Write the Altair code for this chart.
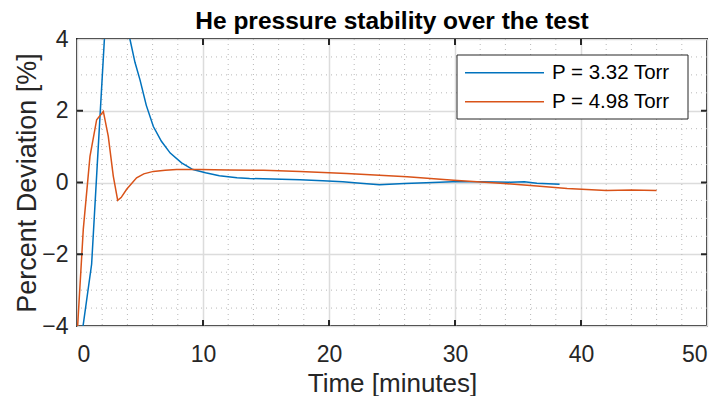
import altair as alt
import pandas as pd

title_text = "He pressure stability over the test"
series_names = ["P = 3.32 Torr", "P = 4.98 Torr"]
series_colors = ["#0072BD", "#D95319"]

# P = 3.32 Torr (blue)
t_332 = [0.48, 1.16, 1.6, 2.17, 2.6, 3.0, 3.5, 4.2, 4.6, 5.0, 5.5, 6.06, 6.7, 7.4, 8.3, 9.2,
         10.2, 11.3, 12.7, 13.7, 15.5, 17.7, 19.5, 21.1, 22.5, 24.0, 26.0, 27.7, 29.8, 32.0,
         34.4, 35.5, 36.5, 38.3]
d_332 = [-4.0, -2.28, 0.45, 3.97, 6.0, 6.5, 5.6, 4.0, 3.35, 2.86, 2.15, 1.56, 1.15, 0.82, 0.55,
         0.36, 0.27, 0.19, 0.13, 0.11, 0.10, 0.08, 0.05, 0.02, -0.02, -0.06, -0.03, -0.01, 0.02,
         0.02, 0.01, 0.02, -0.02, -0.05]

# P = 4.98 Torr (orange)
t_498 = [0.05, 0.5, 1.03, 1.56, 2.09, 2.48, 2.88, 3.23, 3.5, 3.94, 4.73, 5.3, 6.06, 7.0,
         7.9, 9.76, 12.0, 14.8, 17.7, 21.4, 24.0, 26.2, 29.9, 33.9, 36.5, 38.9, 42.0, 44.0, 46.0]
d_498 = [-4.0, -1.3, 0.73, 1.75, 1.98, 1.29, 0.18, -0.5, -0.42, -0.19, 0.13, 0.24, 0.31, 0.34,
         0.36, 0.36, 0.35, 0.34, 0.31, 0.25, 0.20, 0.16, 0.06, -0.03, -0.10, -0.17, -0.22, -0.21, -0.22]

x_major = [0, 10, 20, 30, 40, 50]
y_major = [-4, -2, 0, 2, 4]
x_inner_ticks = [10, 20, 30, 40]
y_inner_ticks = [-2, 0, 2]
x_minor = [2, 4, 6, 8, 12, 14, 16, 18, 22, 24, 26, 28, 32, 34, 36, 38, 42, 44, 46, 48]
y_minor = [-3.5, -3, -2.5, -1.5, -1, -0.5, 0.5, 1, 1.5, 2.5, 3, 3.5]

W, H = 630, 287
FONT = "Liberation Sans"
AX = "#262626"

df = pd.concat([
    pd.DataFrame({"t": t_332, "dev": d_332, "series": series_names[0]}),
    pd.DataFrame({"t": t_498, "dev": d_498, "series": series_names[1]}),
])

xscale = alt.Scale(domain=[0, 50], nice=False, zero=False)
yscale = alt.Scale(domain=[-4, 4], nice=False, zero=False)

x_axis = alt.Axis(
    values=x_major, title="Time [minutes]", grid=True, gridColor="#dcdcdc", gridWidth=1.5,
    ticks=False, domain=False, labelPadding=17, format="d", labelFontSize=23,
    titleFontSize=26, titleFontWeight="normal", titlePadding=4, labelColor=AX, titleColor=AX,
    labelFont=FONT, titleFont=FONT)
y_axis = alt.Axis(
    values=y_major, title="Percent Deviation [%]", grid=True, gridColor="#dcdcdc", gridWidth=1.5,
    ticks=False, domain=False, labelPadding=9, format="d", labelFontSize=23,
    titleFontSize=27, titleFontWeight="normal", titlePadding=0, labelColor=AX, titleColor=AX,
    labelFont=FONT, titleFont=FONT)

gx = alt.Chart(pd.DataFrame({"t": x_minor})).mark_rule(
    color="#b8b8b8", strokeWidth=1, strokeDash=[1, 4]
).encode(x=alt.X("t:Q", scale=xscale, axis=x_axis))

gy = alt.Chart(pd.DataFrame({"dev": y_minor})).mark_rule(
    color="#b8b8b8", strokeWidth=1, strokeDash=[1, 4]
).encode(y=alt.Y("dev:Q", scale=yscale, axis=y_axis))

lines = alt.Chart(df).mark_line(clip=True, strokeWidth=1.5).encode(
    x=alt.X("t:Q", scale=xscale, axis=x_axis),
    y=alt.Y("dev:Q", scale=yscale, axis=y_axis),
    color=alt.Color("series:N", scale=alt.Scale(domain=series_names, range=series_colors),
                    legend=None),
)

tick_style = dict(color=AX, strokeWidth=2)
xt = alt.Chart(pd.DataFrame({"t": x_inner_ticks}))
yt = alt.Chart(pd.DataFrame({"dev": y_inner_ticks}))
bt = xt.mark_rule(**tick_style).encode(x=alt.X("t:Q", scale=xscale, axis=x_axis), y=alt.value(H), y2=alt.value(H - 6))
tt = xt.mark_rule(**tick_style).encode(x=alt.X("t:Q", scale=xscale, axis=x_axis), y=alt.value(0), y2=alt.value(6))
lt = yt.mark_rule(**tick_style).encode(y=alt.Y("dev:Q", scale=yscale, axis=y_axis), x=alt.value(0), x2=alt.value(6))
rt = yt.mark_rule(**tick_style).encode(y=alt.Y("dev:Q", scale=yscale, axis=y_axis), x=alt.value(W), x2=alt.value(W - 6))

# manual legend box (pixel layout inside the plot area)
LX0, LX1, LY0, LY1 = 380, 611, 16, 80
row_y = [33.7, 62.7]
one = pd.DataFrame({"a": [0]})
legend_layers = [
    alt.Chart(one).mark_rect(fill="white", stroke=AX, strokeWidth=1).encode(
        x=alt.value(LX0), x2=alt.value(LX1), y=alt.value(LY0), y2=alt.value(LY1))
]
for name, col, ry in zip(series_names, series_colors, row_y):
    legend_layers.append(alt.Chart(one).mark_rule(color=col, strokeWidth=1.5).encode(
        x=alt.value(388), x2=alt.value(467), y=alt.value(ry)))
    legend_layers.append(alt.Chart(one).mark_text(
        align="left", baseline="middle", font=FONT, fontSize=20.5, color="#000000").encode(
        x=alt.value(475), y=alt.value(ry), text=alt.value(name)))

chart = alt.layer(gx, gy, lines, bt, tt, lt, rt, *legend_layers).properties(
    width=W, height=H,
    title=alt.TitleParams(title_text, font=FONT, fontSize=24.5, fontWeight="bold", color="#000000",
                          anchor="middle", offset=-6),
    autosize=alt.AutoSizeParams(type="none"),
    padding={"left": 69, "top": 31, "right": 7, "bottom": 70},
    background="white",
).configure_view(stroke=AX, strokeWidth=2)

chart.save("out.html", embed_options={"renderer": "svg", "actions": False})
